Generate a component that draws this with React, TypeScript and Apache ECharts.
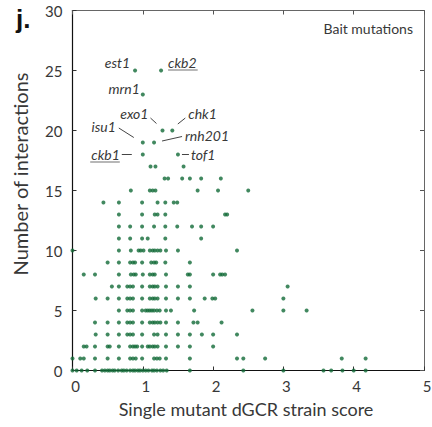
import React, { useEffect, useRef } from "react";
import * as echarts from "echarts";

// dGCR scores of prey genes, grouped by their number of interactions (index = count)
const scoresByCount: number[][] = [
  [0, 0.06, 0.13, 0.21, 0.32, 0.42, 0.46, 0.5, 0.53, 0.57, 0.6, 0.65, 0.7, 0.73, 0.77, 0.82, 0.86, 0.89, 0.93, 0.96, 1.0, 1.04, 1.08, 1.13, 1.16, 1.2, 1.25, 1.29, 1.34, 1.67, 2.43, 3.0, 3.57, 3.68, 3.84, 4.0, 4.17],
  [0, 0.11, 0.16, 0.32, 0.5, 0.66, 0.82, 0.86, 0.9, 0.99, 1.16, 1.2, 1.24, 1.33, 1.67, 2.34, 2.43, 2.74, 3.83, 4.17],
  [0.16, 0.2, 0.32, 0.5, 0.53, 0.66, 0.82, 0.86, 0.89, 0.92, 0.99, 1.07, 1.1, 1.14, 1.17, 1.21, 1.33, 1.5, 1.67, 2.0],
  [0.33, 0.5, 0.66, 0.78, 0.82, 0.86, 0.99, 1.16, 1.21, 1.33, 1.5, 1.67, 1.84, 2.0, 2.34],
  [0.32, 0.5, 0.66, 0.78, 0.82, 0.86, 0.99, 1.1, 1.14, 1.17, 1.21, 1.25, 1.33, 1.5, 1.72, 1.78, 2.12],
  [0.66, 0.78, 0.82, 0.86, 0.99, 1.04, 1.07, 1.1, 1.13, 1.16, 1.2, 1.24, 1.33, 1.4, 1.73, 2.56, 3.0, 3.33],
  [0.33, 0.5, 0.66, 0.78, 0.82, 0.86, 0.99, 1.1, 1.14, 1.17, 1.21, 1.33, 1.5, 1.67, 1.88, 1.99, 2.03, 3.0],
  [0.56, 0.66, 0.78, 0.82, 0.86, 0.99, 1.1, 1.14, 1.17, 1.21, 1.33, 1.5, 1.67, 3.06],
  [0.16, 0.32, 0.66, 0.83, 0.87, 0.9, 1.0, 1.1, 1.14, 1.17, 1.33, 1.64, 1.67, 2.0, 2.1, 2.13, 2.17],
  [0.5, 0.66, 0.82, 0.86, 0.89, 0.99, 1.12, 1.16, 1.19, 1.32, 1.67],
  [0, 0.66, 0.83, 0.94, 0.97, 1.01, 1.1, 1.14, 1.17, 1.21, 1.25, 1.33, 1.5, 2.34],
  [0.66, 0.82, 0.99, 1.07, 1.32, 1.83],
  [0.66, 0.82, 0.99, 1.16, 1.32, 1.49, 1.7, 1.83, 2.0],
  [0.66, 0.99, 1.17, 1.21, 1.32, 2.17, 2.2],
  [0.44, 0.66, 0.99, 1.21, 1.32, 1.44, 1.49],
  [0.83, 1.1, 1.14, 1.18, 1.78, 2.07, 2.5],
  [1.31, 1.36, 1.56, 1.67, 1.83, 2.11],
  [1.11, 1.18, 1.58],
];

// Named bait genes
const labelGenes = ["est1", "ckb2", "mrn1", "exo1", "chk1", "isu1", "rnh201", "ckb1", "tof1"];
const labelScores = [0.89, 1.26, 1.0, 1.28, 1.42, 1.0, 1.16, 1.0, 1.5];
const labelCounts = [25, 25, 23, 20, 20, 19, 19, 18, 18];
const underlinedGenes = ["ckb2", "ckb1"];

const xTicks = ["0", "1", "2", "3", "4", "5"];
const yTicks = ["0", "5", "10", "15", "20", "25", "30"];

// label placement relative to the dot: text anchor, alignment, optional leader line
type Place = { dx: number; dy: number; align: "left" | "right"; line?: [number, number, number, number] };
const placements: Record<string, Place> = {
  est1: { dx: -5, dy: -8, align: "right" },
  ckb2: { dx: 7, dy: -8, align: "left" },
  mrn1: { dx: -3, dy: -6, align: "right" },
  exo1: { dx: -14, dy: -17, align: "right", line: [-12, -12.5, -6, -7] },
  chk1: { dx: 16, dy: -17, align: "left", line: [5.5, -6.5, 13, -12.5] },
  isu1: { dx: -27, dy: -16, align: "right", line: [-24, -14.5, -9, -5] },
  rnh201: { dx: 31, dy: -7, align: "left", line: [8, -1.5, 28, -6] },
  ckb1: { dx: -23, dy: 0, align: "right", line: [-21, 0, -11, 0] },
  tof1: { dx: 13, dy: 0, align: "left", line: [4, 0, 11, 0] },
};

const FONT = "Lato, 'Open Sans', sans-serif";
const DOT = "#126a37";
const TEXT = "#383838";

export default function App() {
  const ref = useRef<HTMLDivElement>(null);

  useEffect(() => {
    document.body.style.margin = "0";
    if (!ref.current) return;
    const chart = echarts.init(ref.current, undefined, { renderer: "svg" });

    const points: number[][] = [];
    scoresByCount.forEach((row, count) => row.forEach((s) => points.push([s, count])));
    const labeled = labelGenes.map((g, i) => [labelScores[i], labelCounts[i]]);

    const hiddenLabels = { show: false };
    chart.setOption({
      animation: false,
      textStyle: { fontFamily: FONT },
      grid: { left: 72.5, right: 8, top: 10.5, bottom: 56.5, containLabel: false, outerBoundsMode: "none" },
      xAxis: [
        {
          type: "value",
          min: 0,
          max: 5,
          interval: 1,
          position: "bottom",
          axisLine: { show: true, onZero: false, lineStyle: { color: "#111", width: 1.2 } },
          axisTick: { show: true, inside: true, length: 4, lineStyle: { color: "#333" } },
          axisLabel: {
            margin: 8,
            fontSize: 15,
            color: TEXT,
            fontFamily: FONT,
            padding: [0, 0, 0, 6],
            formatter: (v: number) => xTicks[Math.round(v)] ?? "",
          },
          splitLine: { show: false },
        },
        {
          type: "value",
          min: 0,
          max: 5,
          interval: 1,
          position: "top",
          axisLine: { show: true, onZero: false, lineStyle: { color: "#666", width: 1 } },
          axisTick: { show: true, inside: true, length: 4, lineStyle: { color: "#555" } },
          axisLabel: hiddenLabels,
          splitLine: { show: false },
        },
      ],
      yAxis: [
        {
          type: "value",
          min: 0,
          max: 30,
          interval: 5,
          position: "left",
          axisLine: { show: true, onZero: false, lineStyle: { color: "#111", width: 1.2 } },
          axisTick: { show: true, inside: true, length: 4, lineStyle: { color: "#333" } },
          axisLabel: {
            margin: 10,
            fontSize: 15,
            color: TEXT,
            fontFamily: FONT,
            formatter: (v: number) => yTicks[Math.round(v / 5)] ?? "",
          },
          splitLine: { show: false },
        },
        {
          type: "value",
          min: 0,
          max: 30,
          interval: 5,
          position: "right",
          axisLine: { show: true, onZero: false, lineStyle: { color: "#666", width: 1 } },
          axisTick: { show: true, inside: true, length: 4, lineStyle: { color: "#555" } },
          axisLabel: hiddenLabels,
          splitLine: { show: false },
        },
      ],
      series: [
        {
          type: "scatter",
          xAxisIndex: 0,
          yAxisIndex: 0,
          symbol: "circle",
          symbolSize: 4,
          itemStyle: { color: DOT },
          data: points,
        },
        {
          type: "scatter",
          xAxisIndex: 0,
          yAxisIndex: 0,
          symbol: "circle",
          symbolSize: 4,
          itemStyle: { color: DOT },
          data: labeled,
        },
      ],
    });

    // gene annotations anchored to their dots
    const annotations: any[] = [];
    labelGenes.forEach((gene, i) => {
      const p = chart.convertToPixel({ seriesIndex: 1 }, [labelScores[i], labelCounts[i]]) as number[];
      const pl = placements[gene];
      const tx = p[0] + pl.dx;
      const ty = p[1] + pl.dy;
      annotations.push({
        type: "text",
        x: tx,
        y: ty,
        style: {
          text: gene,
          fill: TEXT,
          font: `italic 14px ${FONT}`,
          textAlign: pl.align,
          textVerticalAlign: "middle",
        },
      });
      if (underlinedGenes.includes(gene)) {
        const w = gene.length * 7.4;
        const x0 = pl.align === "left" ? tx : tx - w;
        annotations.push({
          type: "line",
          shape: { x1: x0, y1: ty + 7.5, x2: x0 + w, y2: ty + 7.5 },
          style: { stroke: "#888", lineWidth: 1.2 },
        });
      }
      if (pl.line) {
        annotations.push({
          type: "line",
          shape: {
            x1: p[0] + pl.line[0],
            y1: p[1] + pl.line[1],
            x2: p[0] + pl.line[2],
            y2: p[1] + pl.line[3],
          },
          style: { stroke: "#444", lineWidth: 1 },
        });
      }
    });

    chart.setOption({
      graphic: [
        {
          type: "text",
          left: 16,
          top: 6,
          style: { text: "j.", fill: "#111", font: `bold 26px 'Liberation Sans', Arial, sans-serif` },
        },
        {
          type: "text",
          x: 413,
          y: 28,
          style: {
            text: "Bait mutations",
            fill: TEXT,
            font: `14px ${FONT}`,
            textAlign: "right",
            textVerticalAlign: "middle",
          },
        },
        {
          type: "text",
          x: 20,
          y: 174,
          rotation: Math.PI / 2,
          style: {
            text: "Number of interactions",
            fill: TEXT,
            font: `20px ${FONT}`,
            textAlign: "center",
            textVerticalAlign: "middle",
          },
        },
        {
          type: "text",
          x: 246,
          y: 409,
          style: {
            text: "Single mutant dGCR strain score",
            fill: TEXT,
            font: `18px ${FONT}`,
            textAlign: "center",
            textVerticalAlign: "middle",
          },
        },
        ...annotations,
      ],
    });

    return () => chart.dispose();
  }, []);

  return <div ref={ref} style={{ position: "absolute", left: 0, top: 0, width: 432, height: 427 }} />;
}
